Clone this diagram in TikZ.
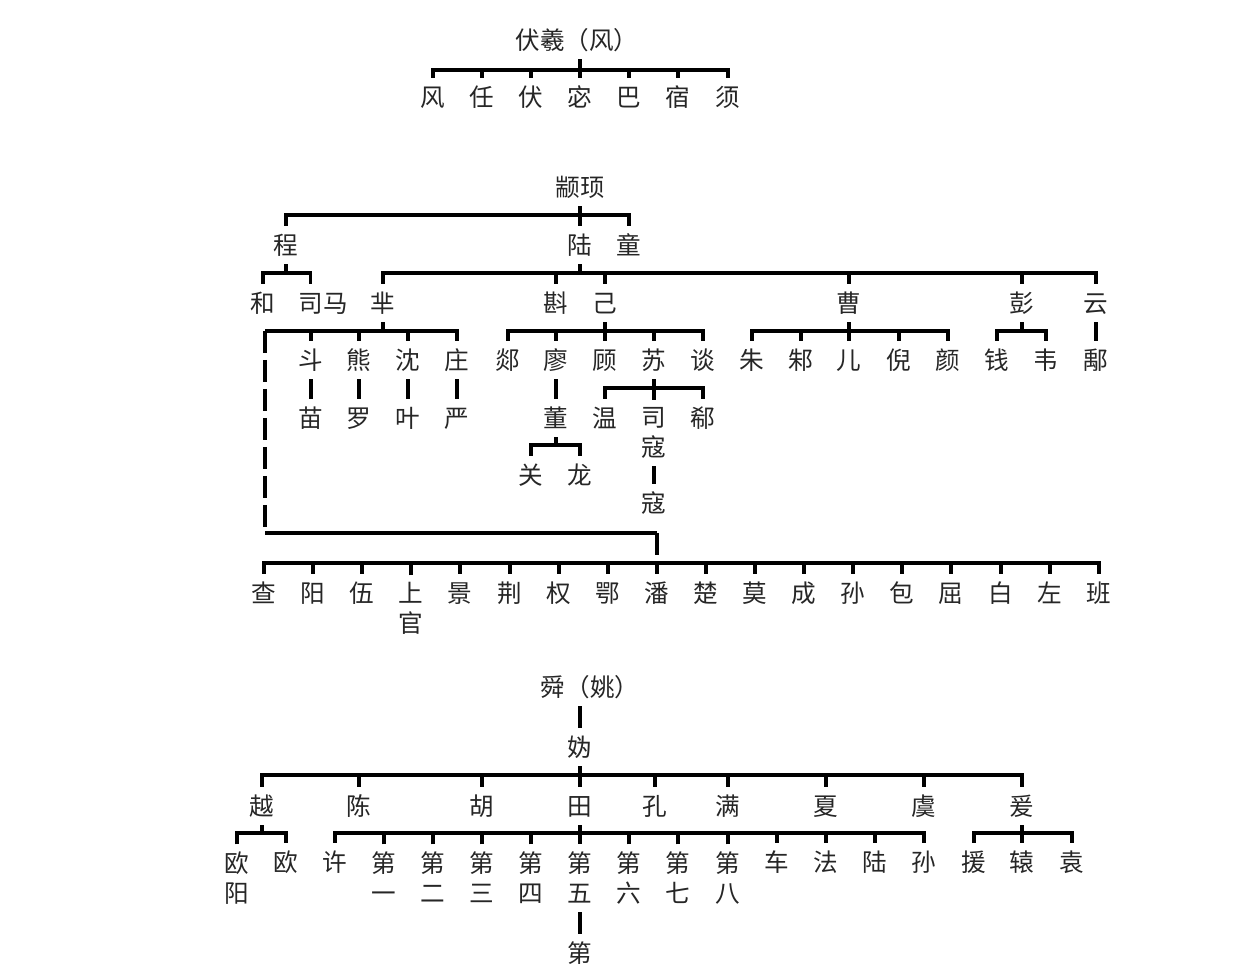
\documentclass[tikz,border=0pt]{standalone}
\usepackage{fontspec}
\newfontfamily\cjk{Noto Sans CJK SC}
\newcommand\zstrut{\rule[-0.12em]{0pt}{1em}}
\tikzset{
	xing/.style = {font=\cjk\fontsize{14}{17}\selectfont, text=black!85, inner xsep=1pt, inner ysep=3pt, align=center, execute at begin node=\zstrut},
	zong/.style = {xing, anchor=north, yshift=10pt},
	broken/.style = {dash pattern=on 12.5pt off 4pt}
}

\begin{document}
\begin{tikzpicture}[x=0.02cm, y=-0.02cm, line width=2pt]
		\useasboundingbox (0,0) rectangle (1257,976);
		% fuxi
		\node[xing] (fuxi) at (577,40) {伏羲（风）};
		\coordinate (fuxi-b) at (580,70);
		\node[xing] (feng) at (433,97) {风};
		\node[xing] (ren) at (482,97) {任};
		\node[xing] (fu) at (531,97) {伏};
		\node[xing] (mi) at (580,97) {宓};
		\node[xing] (ba) at (629,97) {巴};
		\node[xing] (su) at (678,97) {宿};
		\node[xing] (xu) at (728,97) {须};
		\draw (fuxi-b |- fuxi.south) -- (mi);
		\draw (feng) |- (fuxi-b) -| (xu);
		\foreach \n in {ren,fu,ba,su} \draw (\n) -- (\n |- fuxi-b);
		% zhuanxu
		\node[xing] (zhuanxu) at (580,187) {颛顼};
		\coordinate (zx-b) at (580,215);
		\node[xing] (cheng) at (286,245) {程};
		\node[xing] (lu) at (580,245) {陆};
		\node[xing] (tong) at (629,245) {童};
		\draw (zhuanxu) -- (lu);
		\draw (cheng) |- (zx-b) -| (tong);
		% cheng
		\coordinate (cheng-b) at (286,273);
		\node[xing] (he) at (263,303) {和};
		\node[xing] (sima) at (323,303) {司马};
		\draw (cheng) -- (cheng-b);
		\draw (he) |- (cheng-b) -| ([xshift=-7pt]sima.north);
		% lu
		\coordinate (lu-b) at (580,273);
		\node[xing] (mii) at (383,303) {芈};
		\node[xing] (zhen) at (556,303) {斟};
		\node[xing] (ji) at (605,303) {己};
		\node[xing] (cao) at (849,303) {曹};
		\node[xing] (peng) at (1022,303) {彭};
		\node[xing] (yun) at (1096,303) {云};
		\draw (lu) -- (lu-b);
		\draw (mii) |- (lu-b) -| (yun);
		\foreach \n in {zhen,ji,cao,peng} \draw (\n) -- (\n |- lu-b);
		% mi
		\coordinate (mii-b) at (383,331);
		\coordinate (mii-l) at (265,331);
		\node[xing] (dou) at (311,360) {斗};
		\node[xing] (xiong) at (359,360) {熊};
		\node[xing] (shen) at (408,360) {沈};
		\node[xing] (zhuang) at (457,360) {庄};
		\node[xing] (miao) at (311,418) {苗};
		\node[xing] (luo) at (359,418) {罗};
		\node[xing] (ye) at (408,418) {叶};
		\node[xing] (yan) at (457,418) {严};
		\draw (mii) -- (mii-b);
		\draw (mii-l) -| (zhuang);
		\foreach \n in {dou,xiong,shen} \draw (\n) -- (\n |- mii-b);
		\draw (dou) -- (miao);
		\draw (xiong) -- (luo);
		\draw (shen) -- (ye);
		\draw (zhuang) -- (yan);
		% ji
		\coordinate (ji-b) at (605,331);
		\node[xing] (tan) at (508,360) {郯};
		\node[xing] (liao) at (556,360) {廖};
		\node[xing] (gu) at (605,360) {顾};
		\node[xing] (suu) at (654,360) {苏};
		\node[xing] (tann) at (703,360) {谈};
		\draw (ji) -- (gu);
		\draw (tan) |- (ji-b) -| (tann);
		\foreach \n in {liao,suu} \draw (\n) -- (\n |- ji-b);
		\node[xing] (dong) at (556,418) {董};
		\coordinate (dong-b) at (556,445);
		\node[xing] (guan) at (531,475) {关};
		\node[xing] (long) at (580,475) {龙};
		\draw (liao) -- (dong);
		\draw (dong) -- (dong-b);
		\draw (guan) |- (dong-b) -| (long);
		\coordinate (su-b) at (654,388);
		\node[xing] (wen) at (605,418) {温};
		\node[zong] (sikou) at (654,418) {司\\\zstrut 寇};
		\node[xing] (xi) at (703,418) {郗};
		\node[xing] (kou) at (654,503) {寇};
		\draw (suu) -- (sikou);
		\draw (wen) |- (su-b) -| (xi);
		\draw (sikou) -- (kou);
		% cao
		\coordinate (cao-b) at (849,331);
		\node[xing] (zhu) at (752,360) {朱};
		\node[xing] (zhuu) at (801,360) {邾};
		\node[xing] (er) at (849,360) {儿};
		\node[xing] (ni) at (899,360) {倪};
		\node[xing] (yann) at (948,360) {颜};
		\draw (cao) -- (er);
		\draw (zhu) |- (cao-b) -| (yann);
		\foreach \n in {zhuu,ni} \draw (\n) -- (\n |- cao-b);
		% peng, yun
		\coordinate (peng-b) at (1022,331);
		\node[xing] (qian) at (997,360) {钱};
		\node[xing] (wei) at (1046,360) {韦};
		\node[xing] (yu) at (1096,360) {鄅};
		\draw (peng) -- (peng-b);
		\draw (qian) |- (peng-b) -| (wei);
		\draw (yun) -- (yu);
		% mi line down to pan
		\coordinate (turn) at (265,533);
		\coordinate (pan-t) at (657,533);
		\coordinate (row-b) at (657,563);
		\draw[broken] (mii-l) -- (turn);
		\draw (turn) -- (pan-t);
		\draw[broken] (pan-t) -- (row-b);
		\node[xing] (cha) at (264,593) {查};
		\node[xing] (yang) at (313,593) {阳};
		\node[xing] (wu) at (362,593) {伍};
		\node[zong] (shangguan) at (411,593) {上\\\zstrut 官};
		\node[xing] (jing) at (460,593) {景};
		\node[xing] (jingg) at (510,593) {荆};
		\node[xing] (quan) at (559,593) {权};
		\node[xing] (e) at (608,593) {鄂};
		\node[xing] (pan) at (657,593) {潘};
		\node[xing] (chu) at (706,593) {楚};
		\node[xing] (mo) at (755,593) {莫};
		\node[xing] (chengg) at (804,593) {成};
		\node[xing] (sun) at (853,593) {孙};
		\node[xing] (bao) at (902,593) {包};
		\node[xing] (qu) at (951,593) {屈};
		\node[xing] (bai) at (1001,593) {白};
		\node[xing] (zuo) at (1050,593) {左};
		\node[xing] (ban) at (1099,593) {班};
		\draw (cha) |- (row-b) -| (ban);
		\foreach \n in {yang,wu,shangguan,jing,jingg,quan,e,pan,chu,mo,chengg,sun,bao,qu,bai,zuo}
			\draw (\n) -- (\n |- row-b);
		% shun
		\node[xing] (shun) at (590,687) {舜（姚）};
		\node[xing] (gui) at (580,747) {妫};
		\draw (gui |- shun.south) -- (gui);
		\coordinate (gui-b) at (580,775);
		\node[xing] (yue) at (262,806) {越};
		\node[xing] (chen) at (359,806) {陈};
		\node[xing] (hu) at (482,806) {胡};
		\node[xing] (tian) at (580,806) {田};
		\node[xing] (kong) at (655,806) {孔};
		\node[xing] (man) at (728,806) {满};
		\node[xing] (xia) at (826,806) {夏};
		\node[xing] (yuu) at (924,806) {虞};
		\node[xing] (yuan) at (1022,806) {爰};
		\draw (gui) -- (tian);
		\draw (yue) |- (gui-b) -| (yuan);
		\foreach \n in {chen,hu,kong,man,xia,yuu} \draw (\n) -- (\n |- gui-b);
		% yue
		\coordinate (yue-b) at (262,833);
		\node[zong] (ouyang) at (237,862) {欧\\\zstrut 阳};
		\node[xing] (ou) at (286,862) {欧};
		\draw (yue) -- (yue-b);
		\draw (ouyang) |- (yue-b) -| (ou);
		% tian
		\coordinate (tian-b) at (580,833);
		\node[xing] (xuu) at (335,862) {许};
		\node[zong] (d1) at (384,862) {第\\\zstrut 一};
		\node[zong] (d2) at (433,862) {第\\\zstrut 二};
		\node[zong] (d3) at (482,862) {第\\\zstrut 三};
		\node[zong] (d4) at (531,862) {第\\\zstrut 四};
		\node[zong] (d5) at (580,862) {第\\\zstrut 五};
		\node[zong] (d6) at (629,862) {第\\\zstrut 六};
		\node[zong] (d7) at (678,862) {第\\\zstrut 七};
		\node[zong] (d8) at (728,862) {第\\\zstrut 八};
		\node[xing] (che) at (777,862) {车};
		\node[xing] (fa) at (826,862) {法};
		\node[xing] (luu) at (875,862) {陆};
		\node[xing] (sunn) at (924,862) {孙};
		\node[xing] (di) at (580,953) {第};
		\draw (tian) -- (d5);
		\draw (xuu) |- (tian-b) -| (sunn);
		\foreach \n in {d1,d2,d3,d4,d6,d7,d8,che,fa,luu} \draw (\n) -- (\n |- tian-b);
		\draw (d5) -- (di);
		% yuan
		\coordinate (yuan-b) at (1022,833);
		\node[xing] (yuan1) at (974,862) {援};
		\node[xing] (yuan2) at (1022,862) {辕};
		\node[xing] (yuan3) at (1072,862) {袁};
		\draw (yuan) -- (yuan2);
		\draw (yuan1) |- (yuan-b) -| (yuan3);
	\end{tikzpicture}
\end{document}
